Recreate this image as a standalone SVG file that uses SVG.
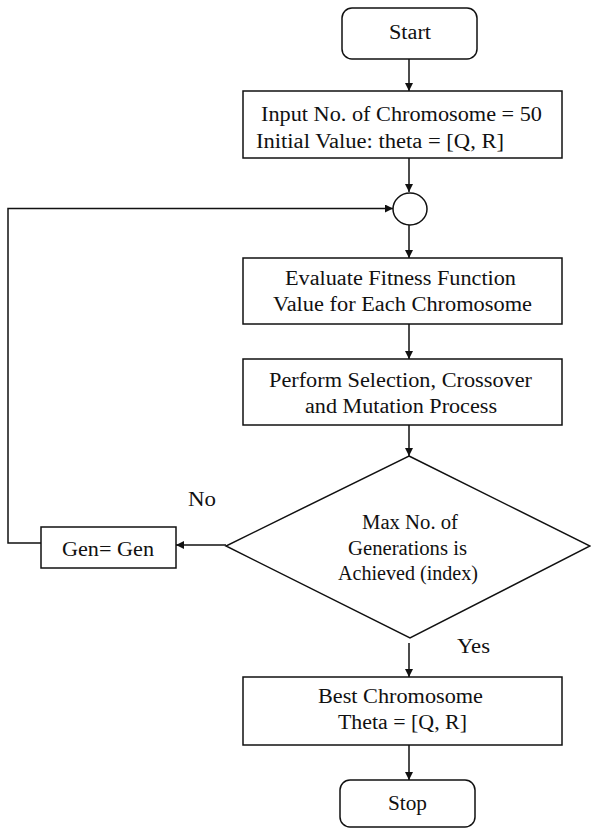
<svg xmlns="http://www.w3.org/2000/svg" width="591" height="829" viewBox="0 0 591 829" font-family="Liberation Serif" font-size="20">
<defs>
<marker id="arr" viewBox="0 0 10 10" refX="10" refY="5" markerWidth="9" markerHeight="8" markerUnits="userSpaceOnUse" orient="auto">
<path d="M0,0 L10,5 L0,10 z" fill="#111"/>
</marker>
</defs>
<style>
.box{fill:#fff;stroke:#111;stroke-width:1.5}
.ln{fill:none;stroke:#111;stroke-width:1.5}
.t{fill:#111}
</style>
<rect width="591" height="829" fill="#fff"/>
<g id="connectors">
<line class="ln" x1="409" y1="59" x2="409" y2="91" marker-end="url(#arr)"/>
<line class="ln" x1="409" y1="158" x2="409" y2="192" marker-end="url(#arr)"/>
<line class="ln" x1="409" y1="225" x2="409" y2="258" marker-end="url(#arr)"/>
<line class="ln" x1="409" y1="324" x2="409" y2="359" marker-end="url(#arr)"/>
<line class="ln" x1="409" y1="425" x2="409" y2="456" marker-end="url(#arr)"/>
<polyline class="ln" points="41,543 8,543 8,208.5 393,208.5" marker-end="url(#arr)"/>
<line class="ln" x1="226" y1="545" x2="176" y2="545" marker-end="url(#arr)"/>
<line class="ln" x1="409" y1="643" x2="409" y2="677" marker-end="url(#arr)"/>
<line class="ln" x1="409" y1="745" x2="409" y2="780" marker-end="url(#arr)"/>
<text class="t" x="188" y="506" textLength="28" lengthAdjust="spacingAndGlyphs">No</text>
<text class="t" x="457" y="653" textLength="33" lengthAdjust="spacingAndGlyphs">Yes</text>
</g>
<g id="start">
<rect class="box" x="342" y="8" width="135" height="51" rx="10"/>
<text class="t" x="389" y="39" textLength="42" lengthAdjust="spacingAndGlyphs">Start</text>
</g>
<g id="input">
<rect class="box" x="243" y="91" width="319" height="67"/>
<text class="t" x="261" y="121" textLength="281" lengthAdjust="spacingAndGlyphs">Input No. of Chromosome = 50</text>
<text class="t" x="256" y="148" textLength="248" lengthAdjust="spacingAndGlyphs">Initial Value: theta = [Q, R]</text>
</g>
<g id="junction">
<ellipse class="box" cx="410" cy="209" rx="17" ry="16"/>
</g>
<g id="evaluate">
<rect class="box" x="243" y="258" width="319" height="66"/>
<text class="t" x="285" y="285" textLength="231" lengthAdjust="spacingAndGlyphs">Evaluate Fitness Function</text>
<text class="t" x="273" y="311" textLength="259" lengthAdjust="spacingAndGlyphs">Value for Each Chromosome</text>
</g>
<g id="perform">
<rect class="box" x="243" y="359" width="319" height="66"/>
<text class="t" x="269" y="387" textLength="263" lengthAdjust="spacingAndGlyphs">Perform Selection, Crossover</text>
<text class="t" x="305" y="413" textLength="192" lengthAdjust="spacingAndGlyphs">and Mutation Process</text>
</g>
<g id="decision">
<polygon class="box" points="409,456 590,546 410,638 226,546"/>
<text class="t" x="362" y="529" textLength="96" lengthAdjust="spacingAndGlyphs">Max No. of</text>
<text class="t" x="348" y="555" textLength="119" lengthAdjust="spacingAndGlyphs">Generations is</text>
<text class="t" x="338" y="580" textLength="140" lengthAdjust="spacingAndGlyphs">Achieved (index)</text>
</g>
<g id="gen">
<rect class="box" x="41" y="527" width="135" height="41"/>
<text class="t" x="62" y="556" textLength="92" lengthAdjust="spacingAndGlyphs">Gen= Gen</text>
</g>
<g id="best">
<rect class="box" x="243" y="677" width="319" height="68"/>
<text class="t" x="318" y="703" textLength="165" lengthAdjust="spacingAndGlyphs">Best Chromosome</text>
<text class="t" x="338" y="729" textLength="129" lengthAdjust="spacingAndGlyphs">Theta = [Q, R]</text>
</g>
<g id="stop">
<rect class="box" x="340" y="780" width="135" height="47" rx="10"/>
<text class="t" x="388" y="810" textLength="39" lengthAdjust="spacingAndGlyphs">Stop</text>
</g>
</svg>
